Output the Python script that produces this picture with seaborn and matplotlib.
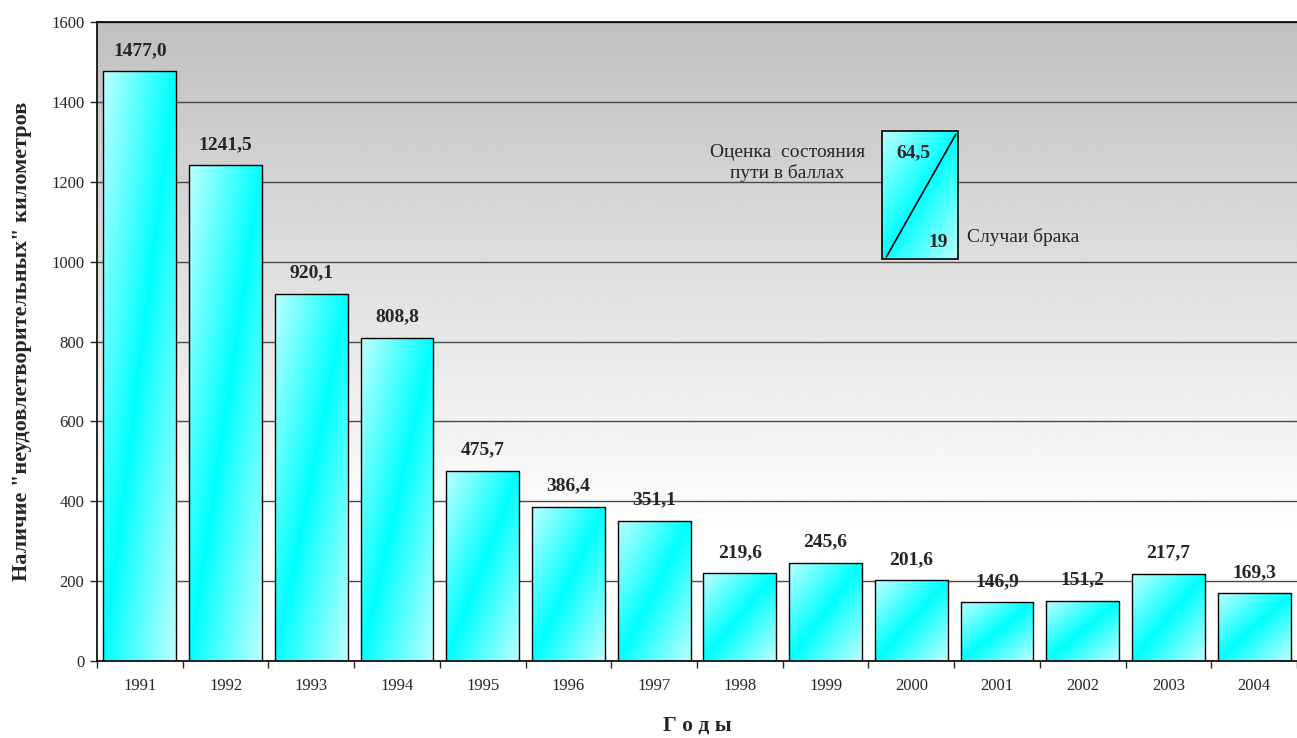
import numpy as np
import pandas as pd
import seaborn as sns
import matplotlib
matplotlib.use("Agg")
from matplotlib import pyplot as plt
from matplotlib.patches import Rectangle

years = ["1991", "1992", "1993", "1994", "1995", "1996", "1997",
         "1998", "1999", "2000", "2001", "2002", "2003", "2004"]
km = [1477.0, 1241.5, 920.1, 808.8, 475.7, 386.4, 351.1,
      219.6, 245.6, 201.6, 146.9, 151.2, 217.7, 169.3]
labels = ["1477,0", "1241,5", "920,1", "808,8", "475,7", "386,4", "351,1",
          "219,6", "245,6", "201,6", "146,9", "151,2", "217,7", "169,3"]
legend_top = "64,5"
legend_bottom = "19"

sns.set_style("white")
plt.rcParams["font.family"] = ["Liberation Serif", "DejaVu Serif"]

df = pd.DataFrame({"year": years, "km": km})

fig = plt.figure(figsize=(12.97, 7.38), dpi=100)
ax = fig.add_axes([97 / 1297, 1 - 661 / 738, 1200 / 1297, 639 / 738])

sns.barplot(data=df, x="year", y="km", ax=ax, color="cyan", width=0.85,
            edgecolor="black", linewidth=1.0, zorder=3)


def cyan_grad(n=200):
    xs = np.linspace(0, 1, n)
    ys = np.linspace(1, 0, n)
    X, Y = np.meshgrid(xs, ys)
    t = (X + (1 - Y)) / 2
    w = np.abs(t - 0.5) * 2
    w = np.clip(w * 0.85, 0, 1)
    img = np.zeros((n, n, 3))
    img[..., 0] = w * 0.88
    img[..., 1] = 1.0
    img[..., 2] = 1.0
    return img


grad = cyan_grad()
for p in ax.patches:
    x0, y0 = p.get_x(), p.get_y()
    w, h = p.get_width(), p.get_height()
    im = ax.imshow(grad, extent=[x0, x0 + w, y0, y0 + h], aspect="auto",
                   origin="upper", zorder=3.5, interpolation="bilinear")
    im.set_clip_path(p)
    p.set_facecolor("none")
    p.set_zorder(4)

# value labels
for i, (v, s) in enumerate(zip(km, labels)):
    ax.annotate(s, (i, v), xytext=(0, 15), textcoords="offset points",
                ha="center", va="center", fontsize=14, fontweight="bold",
                zorder=6)

# background gradient gray -> white
bg = 0.753 + (1 - 0.753) * np.clip(np.linspace(0, 1.25, 256), 0, 1)
bg_img = np.repeat(bg[:, None], 2, axis=1)
ax.imshow(bg_img, extent=[-0.5, 13.5, 0, 1600], aspect="auto", cmap="gray",
          vmin=0, vmax=1, origin="upper", zorder=0)

ax.set_xlim(-0.5, 13.5)
ax.set_ylim(0, 1600)
ax.set_yticks(range(0, 1601, 200))
ax.yaxis.grid(True, color="#4a4a4a", linewidth=1.0, zorder=1)
ax.set_axisbelow(True)
for gl in ax.get_ygridlines():
    gl.set_zorder(1)

ax.spines["right"].set_visible(False)
for s in ["left", "bottom", "top"]:
    ax.spines[s].set_color("black")
    ax.spines[s].set_linewidth(1.2)
    ax.spines[s].set_zorder(7)

ax.tick_params(axis="y", direction="out", length=5, width=1, labelsize=12,
               left=True, pad=4)
ax.tick_params(axis="x", which="major", length=0, labelsize=12, pad=12)
ax.set_xticks(np.arange(-0.5, 13.6, 1), minor=True)
ax.tick_params(axis="x", which="minor", direction="out", length=5, width=1,
               bottom=True)

ax.set_xlabel("Г о д ы", fontsize=15.5, fontweight="bold", labelpad=16)
ax.set_ylabel('Наличие "неудовлетворительных" километров', fontsize=16,
              fontweight="bold", labelpad=14)

# legend-like note box
bx0, bx1 = 8.66, 9.55
by0, by1 = 1007, 1327
box = Rectangle((bx0, by0), bx1 - bx0, by1 - by0, facecolor="none",
                edgecolor="black", linewidth=1.2, zorder=5)
ax.add_patch(box)
im = ax.imshow(grad, extent=[bx0, bx1, by0, by1], aspect="auto",
               origin="upper", zorder=4.5, interpolation="bilinear")
im.set_clip_path(box)
ax.plot([bx0 + 0.05, bx1 - 0.03], [by0 + 5, by1 - 8], color="black",
        linewidth=1.2, zorder=5.5)
ax.text(bx0 + 0.17, by1 - 55, legend_top, fontsize=14, fontweight="bold",
        ha="left", va="center", zorder=6)
ax.text(bx1 - 0.12, by0 + 42, legend_bottom, fontsize=14, fontweight="bold",
        ha="right", va="center", zorder=6)
ax.text(bx0 - 0.2, by1 - 80, "Оценка  состояния\nпути в баллах", fontsize=14,
        ha="right", va="center", multialignment="center", zorder=6,
        linespacing=1.15)
ax.text(bx1 + 0.1, by0 + 55, "Случаи брака", fontsize=14, ha="left",
        va="center", zorder=6)

ax.set_ylim(0, 1600)
ax.set_xlim(-0.5, 13.5)
fig.savefig("out.png", dpi=100)
